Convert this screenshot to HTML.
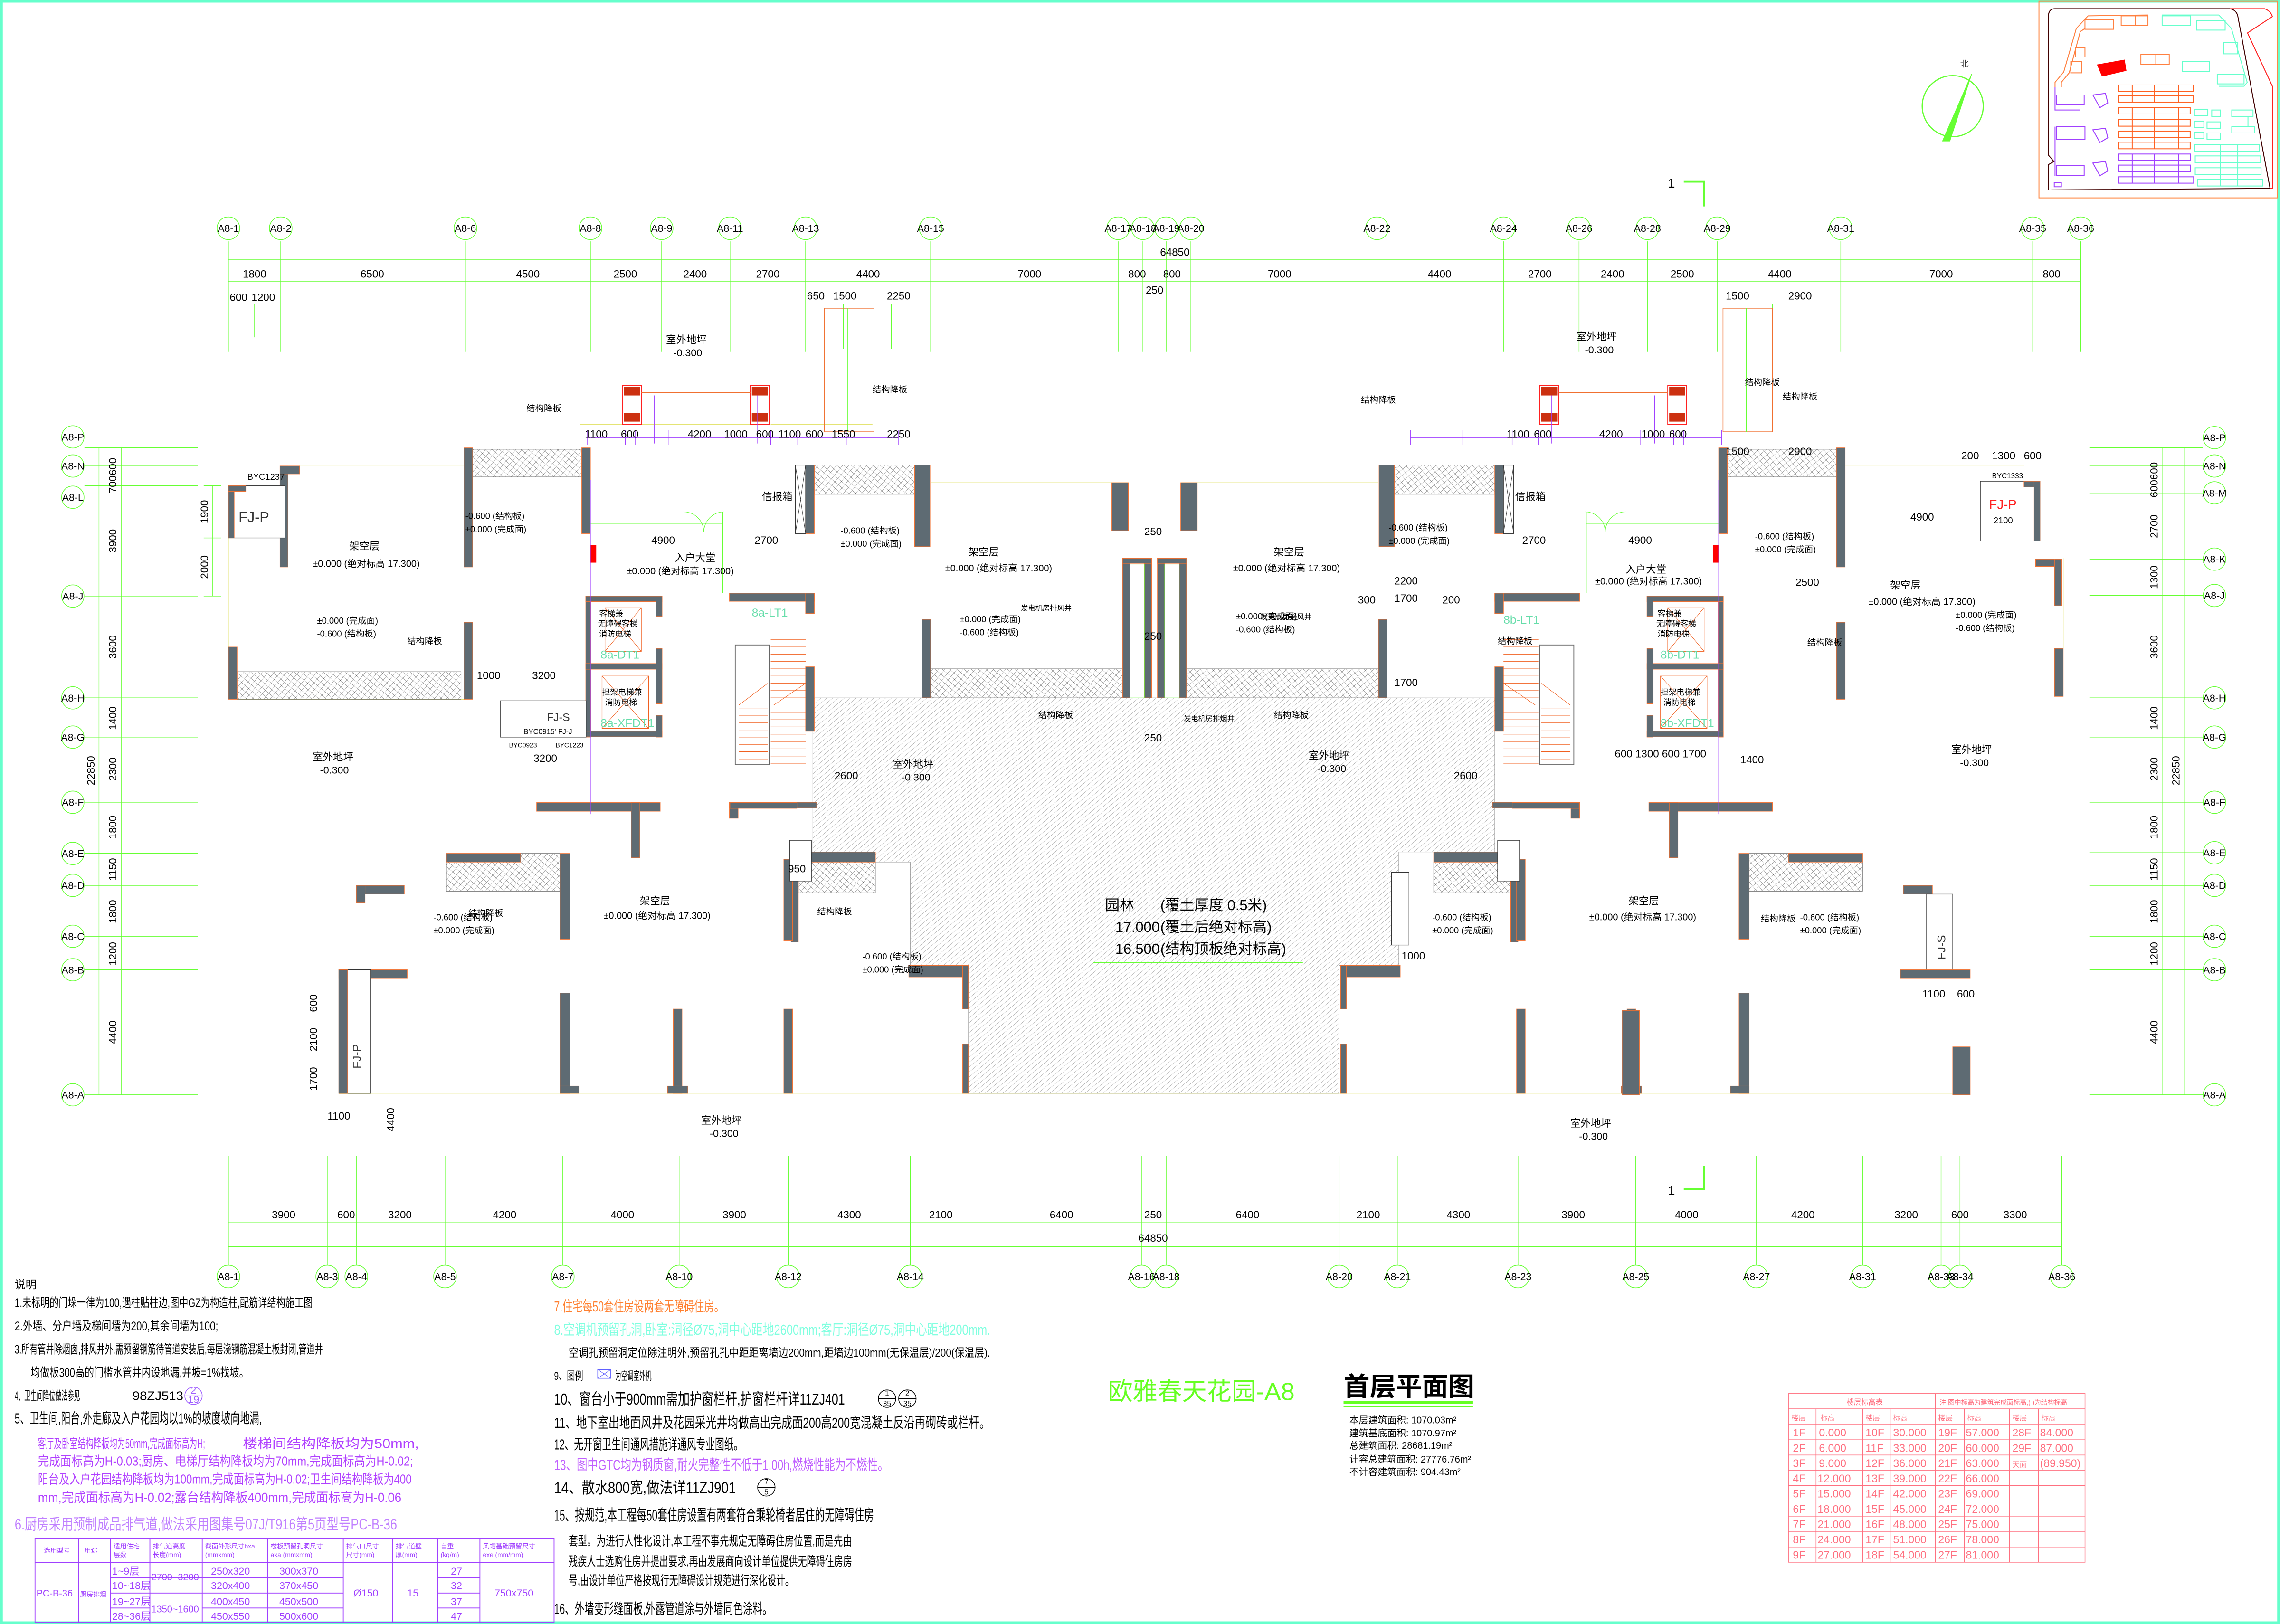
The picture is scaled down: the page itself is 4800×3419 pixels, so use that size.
<!DOCTYPE html>
<html><head><meta charset="utf-8">
<style>
html,body{margin:0;padding:0;background:#fff;}
svg{display:block;}
text{font-family:"Liberation Sans","Noto Sans CJK SC",sans-serif;}
</style></head>
<body>
<svg xmlns="http://www.w3.org/2000/svg" width="4800" height="3419" viewBox="0 0 1568 1117">
<defs>
<pattern id="hd" width="2.6" height="2.6" patternUnits="userSpaceOnUse" patternTransform="rotate(50)"><line x1="0" y1="0" x2="0" y2="2.6" stroke="#7a7a7a" stroke-width=".3"/></pattern>
<pattern id="hx" width="3.2" height="3.2" patternUnits="userSpaceOnUse" patternTransform="rotate(40)"><path d="M0 0H3.2M0 0V3.2" stroke="#555" stroke-width=".3" fill="none"/></pattern>
<style>
.w{fill:#5e6b73;stroke:#f07030;stroke-width:.35}
.hx{fill:url(#hx);stroke:#666;stroke-width:.3}
.g{stroke:#66ff33;fill:none;stroke-width:.45}
.y{stroke:#e0e060;fill:none;stroke-width:.4}
.p{stroke:#a040ff;fill:none;stroke-width:.4}
.bb{fill:#fff;stroke:#66ff33;stroke-width:.5}
.bt{font-size:7px;text-anchor:middle}
.d{font-size:7.3px;text-anchor:middle}
.s{font-size:6px}
.st{stroke:#f06020;stroke-width:.35}
</style>
</defs>
<rect x="0" y="0" width="1568" height="1117" fill="#fff"/>
<rect x="1" y="1" width="1566" height="1115" fill="none" stroke="#66ffcc" stroke-width="1.6"/>

<!-- ===== site plan inset ===== -->
<g transform="translate(1398.2,0) scale(0.10833,0.10889)" fill="none" stroke-width="6">
<rect x="38" y="8" width="1515" height="1242" stroke="#ff8844"/>
<path d="M140 55 L1250 55 Q1290 62 1300 100 L1505 1190 L98 1200 L98 1040 L133 1020 L98 980 L98 100 Q100 55 140 55Z" stroke="#400000"/>
<path d="M1250 55 L1470 55 Q1510 70 1520 105 L1362 208 L1520 545 L1520 1190 L1505 1190" stroke="#ff2020"/>
<path d="M140 550 L140 520 L195 455 L275 180 L350 100 L730 95 M180 550 L180 520 L230 460 L300 200 L330 180" stroke="#ff8040"/>
<path d="M820 95 L1180 95 L1260 180 L1360 520 L1340 545 L1180 545" stroke="#66ffcc"/>
<g stroke="#ff8040">
<path d="M330 125h180v60h-180zM420 125h90M560 100h170v60h-170zM650 100v60M270 300h60v60h-60zM240 390h70v70h-70zM685 345h180v60h-180zM780 345v60"/>
</g>
<g stroke="#66ffcc"><path d="M820 100h180v60h-180zM1040 130h180v60h-180zM1210 270h90v70h-90zM950 390h170v60h-170zM1170 470h170v60h-170z"/></g>
<path d="M410 410 L580 380 L590 445 L440 480Z" fill="#ff0000" stroke="#ff0000"/>
<g stroke="#a040ff"><path d="M140 550v145h160M150 600h175v60h-175zM380 600l80 -10 15 60 -50 30zM150 800h180v80h-180zM380 820l80 -10 15 60 -50 30zM140 800v310M150 1045h175v65h-175zM380 1030l80 -10 15 60 -50 30zM135 1155h45v25h-45z"/></g>
<g stroke="#ff6020">
<rect x="543" y="537" width="475" height="40"/><rect x="543" y="605" width="475" height="40"/><rect x="543" y="680" width="455" height="40"/><rect x="543" y="755" width="455" height="42"/><rect x="543" y="828" width="455" height="42"/><rect x="543" y="898" width="455" height="42"/>
<path d="M630 537v108M770 537v108M925 537v108M630 680v260M770 680v260M925 680v260"/>
</g>
<g stroke="#a040ff">
<rect x="543" y="973" width="458" height="40"/><rect x="543" y="1043" width="458" height="42"/><rect x="543" y="1117" width="477" height="40"/>
<path d="M630 973v185M770 973v185M925 973v185"/>
</g>
<g stroke="#66ffcc">
<rect x="1025" y="690" width="85" height="40"/><rect x="1135" y="695" width="55" height="40"/><rect x="1262" y="695" width="135" height="40"/><rect x="1262" y="800" width="145" height="40"/><path d="M1365 735v65"/>
<rect x="1025" y="765" width="60" height="40"/><rect x="1105" y="770" width="85" height="40"/><rect x="1025" y="835" width="60" height="40"/><rect x="1105" y="840" width="85" height="40"/>
<rect x="1028" y="915" width="410" height="42"/><rect x="1030" y="985" width="415" height="42"/><rect x="1030" y="1060" width="418" height="42"/><rect x="1045" y="1133" width="412" height="42"/>
<path d="M1190 915v260M1300 915v260"/>
</g>
</g>

<!-- north arrow -->
<circle cx="1343" cy="73" r="21" fill="none" stroke="#66ff33" stroke-width=".8"/>
<path d="M1336 97 L1356 51 L1341 97Z" fill="#66ff33" stroke="#66ff33" stroke-width=".5"/>
<text x="1348" y="46" class="s" fill="#333">北</text>

<!-- section marks -->
<text x="1147" y="129" font-size="9">1</text>
<path d="M1158 125h14v17" fill="none" stroke="#66ff33" stroke-width="1.2"/>
<text x="1147" y="822" font-size="9">1</text>
<path d="M1158 818h14v-16" fill="none" stroke="#66ff33" stroke-width="1.2"/>

<!-- ===== TOP grid ===== -->
<g class="g">
<path d="M157 178.4H1431M157 193.7H1431M157 209H200M554 209H640M1181 209H1266"/>
<path d="M157 166V242M193 166V242M320 166V242M406 166V242M455 166V242M502 166V242M554 166V242M640 166V242M769 166V242M786 166V242M802 166V242M819 166V242M947 166V242M1034 166V242M1086 166V242M1133 166V242M1181 166V242M1266 166V242M1398 166V242M1431 166V242"/>
<path d="M175 209V232M580 209V240M613 209V240M1219 209V240"/>
</g>
<g>
<circle cx="157" cy="157" r="7.8" class="bb"/><circle cx="193" cy="157" r="7.8" class="bb"/><circle cx="320" cy="157" r="7.8" class="bb"/><circle cx="406" cy="157" r="7.8" class="bb"/><circle cx="455" cy="157" r="7.8" class="bb"/><circle cx="502" cy="157" r="7.8" class="bb"/><circle cx="554" cy="157" r="7.8" class="bb"/><circle cx="640" cy="157" r="7.8" class="bb"/><circle cx="769" cy="157" r="7.8" class="bb"/><circle cx="786" cy="157" r="7.8" class="bb"/><circle cx="802" cy="157" r="7.8" class="bb"/><circle cx="819" cy="157" r="7.8" class="bb"/><circle cx="947" cy="157" r="7.8" class="bb"/><circle cx="1034" cy="157" r="7.8" class="bb"/><circle cx="1086" cy="157" r="7.8" class="bb"/><circle cx="1133" cy="157" r="7.8" class="bb"/><circle cx="1181" cy="157" r="7.8" class="bb"/><circle cx="1266" cy="157" r="7.8" class="bb"/><circle cx="1398" cy="157" r="7.8" class="bb"/><circle cx="1431" cy="157" r="7.8" class="bb"/>
</g>
<g class="bt" font-size="6">
<text x="157" y="159.5">A8-1</text><text x="193" y="159.5">A8-2</text><text x="320" y="159.5">A8-6</text><text x="406" y="159.5">A8-8</text><text x="455" y="159.5">A8-9</text><text x="502" y="159.5">A8-11</text><text x="554" y="159.5">A8-13</text><text x="640" y="159.5">A8-15</text><text x="769" y="159.5">A8-17</text><text x="786" y="159.5">A8-18</text><text x="802" y="159.5">A8-19</text><text x="819" y="159.5">A8-20</text><text x="947" y="159.5">A8-22</text><text x="1034" y="159.5">A8-24</text><text x="1086" y="159.5">A8-26</text><text x="1133" y="159.5">A8-28</text><text x="1181" y="159.5">A8-29</text><text x="1266" y="159.5">A8-31</text><text x="1398" y="159.5">A8-35</text><text x="1431" y="159.5">A8-36</text>
</g>
<g class="d">
<text x="808" y="176">64850</text>
<text x="175" y="191">1800</text><text x="256" y="191">6500</text><text x="363" y="191">4500</text><text x="430" y="191">2500</text><text x="478" y="191">2400</text><text x="528" y="191">2700</text><text x="597" y="191">4400</text><text x="708" y="191">7000</text><text x="782" y="191">800</text><text x="806" y="191">800</text><text x="880" y="191">7000</text><text x="990" y="191">4400</text><text x="1059" y="191">2700</text><text x="1109" y="191">2400</text><text x="1157" y="191">2500</text><text x="1224" y="191">4400</text><text x="1335" y="191">7000</text><text x="1411" y="191">800</text>
<text x="794" y="202">250</text>
</g>
<g class="d" font-size="6.3">
<text x="164" y="207">600</text><text x="181" y="207">1200</text>
<text x="561" y="206">650</text><text x="581" y="206">1500</text><text x="618" y="206">2250</text>
<text x="1195" y="206">1500</text><text x="1238" y="206">2900</text>
</g>

<!-- ===== BOTTOM grid ===== -->
<g class="g">
<path d="M157 841H1418M157 857.5H1418"/>
<path d="M157 795V870M225 795V870M245 795V870M306 795V870M387 795V870M467 795V870M542 795V870M626 795V870M785 795V870M802 795V870M921 795V870M961 795V870M1044 795V870M1125 795V870M1208 795V870M1281 795V870M1335 795V870M1348 795V870M1418 795V870"/>
</g>
<g>
<circle cx="157" cy="878" r="7.8" class="bb"/><circle cx="225" cy="878" r="7.8" class="bb"/><circle cx="245" cy="878" r="7.8" class="bb"/><circle cx="306" cy="878" r="7.8" class="bb"/><circle cx="387" cy="878" r="7.8" class="bb"/><circle cx="467" cy="878" r="7.8" class="bb"/><circle cx="542" cy="878" r="7.8" class="bb"/><circle cx="626" cy="878" r="7.8" class="bb"/><circle cx="785" cy="878" r="7.8" class="bb"/><circle cx="802" cy="878" r="7.8" class="bb"/><circle cx="921" cy="878" r="7.8" class="bb"/><circle cx="961" cy="878" r="7.8" class="bb"/><circle cx="1044" cy="878" r="7.8" class="bb"/><circle cx="1125" cy="878" r="7.8" class="bb"/><circle cx="1208" cy="878" r="7.8" class="bb"/><circle cx="1281" cy="878" r="7.8" class="bb"/><circle cx="1335" cy="878" r="7.8" class="bb"/><circle cx="1348" cy="878" r="7.8" class="bb"/><circle cx="1418" cy="878" r="7.8" class="bb"/>
</g>
<g class="bt" font-size="6">
<text x="157" y="880.5">A8-1</text><text x="225" y="880.5">A8-3</text><text x="245" y="880.5">A8-4</text><text x="306" y="880.5">A8-5</text><text x="387" y="880.5">A8-7</text><text x="467" y="880.5">A8-10</text><text x="542" y="880.5">A8-12</text><text x="626" y="880.5">A8-14</text><text x="785" y="880.5">A8-16</text><text x="802" y="880.5">A8-18</text><text x="921" y="880.5">A8-20</text><text x="961" y="880.5">A8-21</text><text x="1044" y="880.5">A8-23</text><text x="1125" y="880.5">A8-25</text><text x="1208" y="880.5">A8-27</text><text x="1281" y="880.5">A8-31</text><text x="1335" y="880.5">A8-33</text><text x="1348" y="880.5">A8-34</text><text x="1418" y="880.5">A8-36</text>
</g>
<g class="d">
<text x="195" y="838">3900</text><text x="238" y="838">600</text><text x="275" y="838">3200</text><text x="347" y="838">4200</text><text x="428" y="838">4000</text><text x="505" y="838">3900</text><text x="584" y="838">4300</text><text x="647" y="838">2100</text><text x="730" y="838">6400</text><text x="793" y="838">250</text><text x="858" y="838">6400</text><text x="941" y="838">2100</text><text x="1003" y="838">4300</text><text x="1082" y="838">3900</text><text x="1160" y="838">4000</text><text x="1240" y="838">4200</text><text x="1311" y="838">3200</text><text x="1348" y="838">600</text><text x="1386" y="838">3300</text>
<text x="793" y="854">64850</text>
</g>

<!-- ===== LEFT grid ===== -->
<g class="g">
<path d="M68 308V753M83.5 308V753"/>
<path d="M58 308H136M58 320.5H136M58 334H136M58 410H136M58 480H136M58 507H136M58 551.8H136M58 587H136M58 609H136M58 644H136M58 667H136M58 753H136"/>
<path d="M146 334V410M140 334H152M140 370H152M140 410H152"/>
</g>
<g>
<circle cx="50" cy="300.5" r="7.7" class="bb"/><circle cx="50" cy="320.5" r="7.7" class="bb"/><circle cx="50" cy="342" r="7.7" class="bb"/><circle cx="50" cy="410" r="7.7" class="bb"/><circle cx="50" cy="480" r="7.7" class="bb"/><circle cx="50" cy="507" r="7.7" class="bb"/><circle cx="50" cy="551.8" r="7.7" class="bb"/><circle cx="50" cy="587" r="7.7" class="bb"/><circle cx="50" cy="609" r="7.7" class="bb"/><circle cx="50" cy="644" r="7.7" class="bb"/><circle cx="50" cy="667" r="7.7" class="bb"/><circle cx="50" cy="753" r="7.7" class="bb"/>
</g>
<g class="bt" font-size="6">
<text x="50" y="303">A8-P</text><text x="50" y="323">A8-N</text><text x="50" y="344.5">A8-L</text><text x="50" y="412.5">A8-J</text><text x="50" y="482.5">A8-H</text><text x="50" y="509.5">A8-G</text><text x="50" y="554.3">A8-F</text><text x="50" y="589.5">A8-E</text><text x="50" y="611.5">A8-D</text><text x="50" y="646.5">A8-C</text><text x="50" y="669.5">A8-B</text><text x="50" y="755.5">A8-A</text>
</g>
<g class="d">
<text transform="translate(80,327) rotate(-90)">700600</text>
<text transform="translate(80,372) rotate(-90)">3900</text>
<text transform="translate(80,445) rotate(-90)">3600</text>
<text transform="translate(80,494) rotate(-90)">1400</text>
<text transform="translate(80,529) rotate(-90)">2300</text>
<text transform="translate(80,569) rotate(-90)">1800</text>
<text transform="translate(80,598) rotate(-90)">1150</text>
<text transform="translate(80,627) rotate(-90)">1800</text>
<text transform="translate(80,656) rotate(-90)">1200</text>
<text transform="translate(80,710) rotate(-90)">4400</text>
<text transform="translate(65,530) rotate(-90)">22850</text>
<text transform="translate(143,352) rotate(-90)">1900</text>
<text transform="translate(143,390) rotate(-90)">2000</text>
</g>

<!-- ===== RIGHT grid ===== -->
<g class="g">
<path d="M1487 308V753M1502 308V753"/>
<path d="M1437 308H1515M1437 320.5H1515M1437 339H1515M1437 384.6H1515M1437 409.6H1515M1437 480H1515M1437 507H1515M1437 551.8H1515M1437 586.5H1515M1437 609H1515M1437 644H1515M1437 667H1515M1437 753H1515"/>
</g>
<g>
<circle cx="1523" cy="301" r="7.7" class="bb"/><circle cx="1523" cy="320.5" r="7.7" class="bb"/><circle cx="1523" cy="339" r="7.7" class="bb"/><circle cx="1523" cy="384.6" r="7.7" class="bb"/><circle cx="1523" cy="409.6" r="7.7" class="bb"/><circle cx="1523" cy="480" r="7.7" class="bb"/><circle cx="1523" cy="507" r="7.7" class="bb"/><circle cx="1523" cy="551.8" r="7.7" class="bb"/><circle cx="1523" cy="586.5" r="7.7" class="bb"/><circle cx="1523" cy="609" r="7.7" class="bb"/><circle cx="1523" cy="644" r="7.7" class="bb"/><circle cx="1523" cy="667" r="7.7" class="bb"/><circle cx="1523" cy="753" r="7.7" class="bb"/>
</g>
<g class="bt" font-size="6">
<text x="1523" y="303.5">A8-P</text><text x="1523" y="323">A8-N</text><text x="1523" y="341.5">A8-M</text><text x="1523" y="387">A8-K</text><text x="1523" y="412">A8-J</text><text x="1523" y="482.5">A8-H</text><text x="1523" y="509.5">A8-G</text><text x="1523" y="554.3">A8-F</text><text x="1523" y="589">A8-E</text><text x="1523" y="611.5">A8-D</text><text x="1523" y="646.5">A8-C</text><text x="1523" y="669.5">A8-B</text><text x="1523" y="755.5">A8-A</text>
</g>
<g class="d">
<text transform="translate(1484,330) rotate(-90)">600600</text>
<text transform="translate(1484,362) rotate(-90)">2700</text>
<text transform="translate(1484,397) rotate(-90)">1300</text>
<text transform="translate(1484,445) rotate(-90)">3600</text>
<text transform="translate(1484,494) rotate(-90)">1400</text>
<text transform="translate(1484,529) rotate(-90)">2300</text>
<text transform="translate(1484,569) rotate(-90)">1800</text>
<text transform="translate(1484,598) rotate(-90)">1150</text>
<text transform="translate(1484,627) rotate(-90)">1800</text>
<text transform="translate(1484,656) rotate(-90)">1200</text>
<text transform="translate(1484,710) rotate(-90)">4400</text>
<text transform="translate(1499,530) rotate(-90)">22850</text>
</g>

<!-- ===== courtyard hatch ===== -->
<path d="M559 480 L1028 480 L1028 586 L962 586 L962 664 L921 664 L921 752 L666 752 L666 664 L626 664 L626 593 L559 593Z" fill="url(#hd)" stroke="#999" stroke-width=".3"/>

<!-- yellow outline -->
<g class="y">
<path d="M163 481H320M157 481V445M157 370V390M206 320H320M399 292H430M441 292H516M530 292H600M640 332H776M812 332H948M233 752.5H1355M157 390V445"/>
<path d="M1392 320H1267M1419 384V446"/>
</g>

<!-- ramps (not mirrored) -->
<rect x="567" y="212" width="34" height="85" fill="none" stroke="#f07030" stroke-width=".5"/>
<path d="M583 212V297" stroke="#66ff33" stroke-width=".4"/>
<rect x="1185" y="212" width="34" height="85" fill="none" stroke="#f07030" stroke-width=".5"/>
<path d="M1201 212V297" stroke="#66ff33" stroke-width=".4"/>

<!-- ===== mirrored walls ===== -->
<g id="half">
<rect class="hx" x="325" y="309" width="75" height="19"/>
<rect class="hx" x="560" y="320" width="70" height="20"/>
<rect class="hx" x="640" y="460" width="132" height="20"/>
<rect class="hx" x="549" y="593" width="53" height="21"/>
<rect class="hx" x="307" y="587" width="78" height="26"/>
<rect class="w" x="319" y="308" width="6" height="82"/>
<rect class="w" x="400" y="308" width="6" height="59"/>
<rect class="w" x="319" y="428" width="6" height="53"/>
<rect class="w" x="554" y="320" width="6" height="47"/>
<rect class="w" x="629" y="320" width="10.6" height="56"/>
<rect class="w" x="634" y="426" width="6" height="54"/>
<rect class="w" x="764.6" y="332" width="11.4" height="33"/>
<rect class="w" x="772" y="384" width="5" height="96"/>
<rect class="w" x="787" y="384" width="5" height="96"/>
<rect class="w" x="772" y="384" width="20" height="3.5"/>
<rect x="777" y="388" width="10" height="92" fill="#fff" stroke="#66ff33" stroke-width=".3"/>
<rect class="w" x="402.8" y="410" width="3.6" height="97"/>
<rect class="w" x="402.8" y="410" width="52.5" height="3.8"/>
<rect class="w" x="402.8" y="456.4" width="52.5" height="3.9"/>
<rect class="w" x="402.8" y="503" width="52.5" height="3.8"/>
<rect class="w" x="451" y="410" width="4.3" height="14"/>
<rect class="w" x="451" y="446" width="4.3" height="38"/>
<rect class="w" x="451" y="492" width="4.3" height="15"/>
<rect x="416" y="418" width="25" height="30" fill="none" stroke="#f06020" stroke-width=".4"/>
<path d="M416 418L441 448M441 418L416 448" stroke="#f06020" stroke-width=".35"/>
<rect x="414" y="465" width="32" height="36" fill="none" stroke="#f06020" stroke-width=".4"/>
<path d="M414 465L446 501M446 465L414 501" stroke="#f06020" stroke-width=".35"/>
<rect class="w" x="501.6" y="408" width="58.4" height="5.6"/>
<rect class="w" x="554" y="408" width="6" height="14"/>
<rect class="w" x="554" y="458.6" width="6" height="44.4"/>
<rect class="w" x="501.6" y="551.8" width="60" height="4"/>
<rect class="w" x="501.6" y="551.8" width="6" height="11"/>
<rect x="505.6" y="443.6" width="23.4" height="82.4" fill="#fff" stroke="#666" stroke-width=".6"/>
<g class="st">
<path d="M530 440H554M530 445H554M530 450H554M530 455H554M530 460H554M530 465H554M530 470H554M530 475H554M530 480H554M530 485H554M530 490H554M530 495H554M530 500H554M530 505H554M530 510H554M530 515H554M530 520H554M530 525H554"/>
<path d="M508 487H528M508 492H528M508 497H528M508 502H528M508 507H528M508 512H528M508 517H528M508 522H528"/>
<path d="M508 485L528 470M532 485L554 470"/>
</g>
<rect class="w" x="544" y="586" width="5" height="62"/>
<rect class="w" x="539" y="694" width="6" height="58"/>
<rect class="w" x="556" y="586" width="46" height="7"/>
<rect class="w" x="625" y="664" width="41" height="8"/>
<rect class="w" x="662" y="664" width="4" height="30"/>
<rect class="w" x="662" y="718" width="4" height="34"/>
<rect class="w" x="369" y="552" width="85" height="6"/>
<rect class="w" x="434" y="552" width="6" height="38"/>
<rect class="w" x="502" y="552" width="46" height="4"/>
<rect class="w" x="307" y="587" width="51" height="6"/>
<rect class="w" x="385" y="587" width="7" height="59"/>
<rect class="w" x="385" y="683" width="7" height="69"/>
<rect class="w" x="385" y="747" width="13" height="5"/>
<rect class="w" x="463" y="694" width="6" height="58"/>
<rect class="w" x="459" y="747" width="14" height="5"/>
<rect class="w" x="539" y="591" width="6" height="56"/>
<rect x="547" y="320" width="7" height="47" fill="#fff" stroke="#333" stroke-width=".4"/>
<path d="M547 320L554 367M554 320L547 367" stroke="#333" stroke-width=".3"/>
<rect x="406" y="375" width="4" height="12" fill="#ff0000"/>
<path d="M406 360H497M497 352V408" stroke="#66ff33" stroke-width=".4" fill="none"/>
<path d="M470 352a14 14 0 0 1 14 14M498 352a14 14 0 0 0 -14 14" stroke="#66ff33" stroke-width=".4" fill="none"/>
<rect x="428" y="265" width="13" height="27" fill="#fff" stroke="#ff2020" stroke-width=".6"/>
<rect x="429" y="266" width="11" height="6" fill="#cc3010"/><rect x="429" y="284" width="11" height="6" fill="#cc3010"/>
<rect x="516" y="265" width="13" height="27" fill="#fff" stroke="#ff2020" stroke-width=".6"/>
<rect x="517" y="266" width="11" height="6" fill="#cc3010"/><rect x="517" y="284" width="11" height="6" fill="#cc3010"/>
<path d="M441 270H516" stroke="#f07030" stroke-width=".4"/>
<path class="p" d="M404 301H618M404 296V306M430 296V306M437 296V306M460 296V306M530 296V306M548 296V306M582 296V306M618 296V306"/>
<path class="p" d="M450 272V305M521 272V305M406 330V560"/>
</g>
<use href="#half" transform="matrix(-1,0,0,1,1588,0)"/>

<!-- ===== wing-specific ===== -->
<rect class="hx" x="163" y="462" width="154" height="19"/>
<rect class="w" x="157" y="445" width="6" height="36"/>
<rect class="w" x="192.5" y="320.5" width="5.5" height="69.5"/>
<rect class="w" x="192.5" y="320.5" width="13.5" height="5.5"/>
<rect x="157" y="334" width="39" height="36" fill="#fff" stroke="#333" stroke-width=".4"/>
<rect class="w" x="157" y="334" width="4" height="36"/><rect class="w" x="157" y="334" width="12" height="4"/>
<text x="164" y="359" font-size="10" fill="#333">FJ-P</text>
<text x="170" y="330" class="s" font-size="5">BYC1237</text>
<rect class="w" x="233" y="667" width="47" height="6"/>
<rect x="233" y="667" width="22" height="85" fill="#fff" stroke="#333" stroke-width=".4"/>
<rect class="w" x="233" y="667" width="6" height="85"/>
<text transform="translate(248,735) rotate(-90)" font-size="8" fill="#333">FJ-P</text>
<text x="233" y="770" class="d" font-size="6.5" text-anchor="start">1100</text>
<text transform="translate(271,770) rotate(-90)" class="d" font-size="6.5" text-anchor="start">4400</text>
<text transform="translate(218,690) rotate(-90)" class="d" font-size="6.5">600</text>
<text transform="translate(218,715) rotate(-90)" class="d" font-size="6.5">2100</text>
<text transform="translate(218,742) rotate(-90)" class="d" font-size="6.5">1700</text>
<rect class="w" x="245" y="609" width="33" height="6"/>
<rect class="w" x="245" y="609" width="6" height="12"/>
<rect x="344" y="482" width="59" height="25" fill="#fff" stroke="#333" stroke-width=".4"/>
<text x="376" y="496" font-size="7.5" fill="#333">FJ-S</text>
<text x="360" y="505" font-size="5">BYC0915' FJ-J</text>
<text x="350" y="514" font-size="4.5">BYC0923</text><text x="382" y="514" font-size="4.5">BYC1223</text>
<rect class="w" x="1400" y="384.6" width="18" height="5"/>
<rect class="w" x="1413" y="384.6" width="5" height="32"/>
<rect class="w" x="1413" y="446" width="6" height="33"/>
<rect x="1362" y="331" width="41" height="41" fill="#fff" stroke="#333" stroke-width=".4"/>
<rect class="w" x="1392" y="331" width="11" height="4"/><rect class="w" x="1399" y="331" width="4" height="41"/>
<text x="1368" y="350" font-size="9" fill="#ff2020">FJ-P</text>
<text x="1371" y="360" class="s">2100</text>
<text x="1370" y="329" font-size="5">BYC1333</text>
<g class="d" font-size="6.5"><text x="1355" y="316">200</text><text x="1378" y="316">1300</text><text x="1398" y="316">600</text><text x="1322" y="358">4900</text></g>
<rect class="w" x="1309" y="609" width="20" height="6"/>
<rect x="1325" y="615" width="18" height="55" fill="#fff" stroke="#333" stroke-width=".4"/>
<rect class="w" x="1307" y="667" width="48" height="6"/>
<text transform="translate(1338,660) rotate(-90)" font-size="8" fill="#333">FJ-S</text>
<g class="d" font-size="6.5"><text x="1330" y="686">1100</text><text x="1352" y="686">600</text></g>
<rect class="w" x="1115.6" y="695" width="11.9" height="58"/>
<rect class="w" x="1343" y="720" width="12" height="33"/>
<rect x="543" y="578" width="15" height="28" fill="#fff" stroke="#333" stroke-width=".4"/>
<rect x="1030" y="578" width="15" height="28" fill="#fff" stroke="#333" stroke-width=".4"/>
<rect x="957" y="600" width="12" height="50" fill="#fff" stroke="#333" stroke-width=".4"/>

<!-- ===== plan labels ===== -->
<g font-size="7" fill="#000">
<text x="240" y="378">架空层</text><text x="215" y="390" font-size="6.5">±0.000 (绝对标高  17.300)</text>
<text x="666" y="382">架空层</text><text x="650" y="393" font-size="6.5">±0.000 (绝对标高  17.300)</text>
<text x="876" y="382">架空层</text><text x="848" y="393" font-size="6.5">±0.000 (绝对标高  17.300)</text>
<text x="1300" y="405">架空层</text><text x="1285" y="416" font-size="6.5">±0.000 (绝对标高  17.300)</text>
<text x="440" y="622">架空层</text><text x="415" y="632" font-size="6.5">±0.000 (绝对标高  17.300)</text>
<text x="1120" y="622">架空层</text><text x="1093" y="633" font-size="6.5">±0.000 (绝对标高  17.300)</text>
<text x="458" y="236">室外地坪</text><text x="463" y="245">-0.300</text>
<text x="1084" y="234">室外地坪</text><text x="1090" y="243">-0.300</text>
<text x="215" y="523">室外地坪</text><text x="220" y="532">-0.300</text>
<text x="614" y="528">室外地坪</text><text x="620" y="537">-0.300</text>
<text x="900" y="522">室外地坪</text><text x="906" y="531">-0.300</text>
<text x="1342" y="518">室外地坪</text><text x="1348" y="527">-0.300</text>
<text x="482" y="773">室外地坪</text><text x="488" y="782">-0.300</text>
<text x="1080" y="775">室外地坪</text><text x="1086" y="784">-0.300</text>
<text x="464" y="386">入户大堂</text><text x="431" y="395" font-size="6.5">±0.000 (绝对标高  17.300)</text>
<text x="1118" y="394">入户大堂</text><text x="1097" y="402" font-size="6.5">±0.000 (绝对标高  17.300)</text>
<text x="524" y="344">信报箱</text><text x="1042" y="344">信报箱</text>
</g>
<g font-size="6" fill="#000">
<text x="320" y="357">-0.600 (结构板)</text><text x="320" y="366">±0.000 (完成面)</text>
<text x="578" y="367">-0.600 (结构板)</text><text x="578" y="376">±0.000 (完成面)</text>
<text x="955" y="365">-0.600 (结构板)</text><text x="955" y="374">±0.000 (完成面)</text>
<text x="1207" y="371">-0.600 (结构板)</text><text x="1207" y="380">±0.000 (完成面)</text>
<text x="218" y="429">±0.000 (完成面)</text><text x="218" y="438">-0.600 (结构板)</text>
<text x="1345" y="425">±0.000 (完成面)</text><text x="1345" y="434">-0.600 (结构板)</text>
<text x="660" y="428">±0.000 (完成面)</text><text x="660" y="437">-0.600 (结构板)</text>
<text x="850" y="426">±0.000 (完成面)</text><text x="850" y="435">-0.600 (结构板)</text>
<text x="298" y="633">-0.600 (结构板)</text><text x="298" y="642">±0.000 (完成面)</text>
<text x="593" y="660">-0.600 (结构板)</text><text x="593" y="669">±0.000 (完成面)</text>
<text x="985" y="633">-0.600 (结构板)</text><text x="985" y="642">±0.000 (完成面)</text>
<text x="1238" y="633">-0.600 (结构板)</text><text x="1238" y="642">±0.000 (完成面)</text>
<text x="362" y="283">结构降板</text><text x="936" y="277">结构降板</text><text x="1200" y="265">结构降板</text>
<text x="600" y="270">结构降板</text><text x="1226" y="275">结构降板</text>
<text x="280" y="443">结构降板</text><text x="714" y="494">结构降板</text><text x="876" y="494">结构降板</text>
<text x="322" y="630">结构降板</text><text x="562" y="629">结构降板</text><text x="1211" y="634">结构降板</text>
<text x="1030" y="443">结构降板</text><text x="1243" y="444">结构降板</text>
<text x="702" y="420" font-size="5">发电机房排风井</text><text x="867" y="426" font-size="5">发电机房送风井</text>
<text x="814" y="496" font-size="5">发电机房排烟井</text>
<text x="412" y="424" font-size="5.5">客梯兼</text><text x="411" y="431" font-size="5.5">无障碍客梯</text><text x="412" y="438" font-size="5.5">消防电梯</text>
<text x="414" y="478" font-size="5.5">担架电梯兼</text><text x="416" y="485" font-size="5.5">消防电梯</text>
<text x="1140" y="424" font-size="5.5">客梯兼</text><text x="1139" y="431" font-size="5.5">无障碍客梯</text><text x="1140" y="438" font-size="5.5">消防电梯</text>
<text x="1142" y="478" font-size="5.5">担架电梯兼</text><text x="1144" y="485" font-size="5.5">消防电梯</text>
</g>
<g font-size="8" fill="#66ddaa">
<text x="413" y="453">8a-DT1</text><text x="413" y="500">8a-XFDT1</text><text x="517" y="424">8a-LT1</text>
<text x="1142" y="453">8b-DT1</text><text x="1142" y="500">8b-XFDT1</text><text x="1034" y="429">8b-LT1</text>
</g>
<g font-size="10" fill="#000">
<text x="760" y="626">园林</text><text x="798" y="626">(覆土厚度  0.5米)</text>
<text x="767" y="641">17.000</text><text x="798" y="641">(覆土后绝对标高)</text>
<text x="767" y="656">16.500</text><text x="798" y="656">(结构顶板绝对标高)</text>
</g>
<path d="M752 662H896" stroke="#66ff33" stroke-width=".5"/>
<g class="d" font-size="6.5">
<text x="410" y="301">1100</text><text x="433" y="301">600</text><text x="481" y="301">4200</text><text x="506" y="301">1000</text><text x="526" y="301">600</text><text x="543" y="301">1100</text><text x="560" y="301">600</text><text x="580" y="301">1550</text><text x="618" y="301">2250</text>
<text x="1044" y="301">1100</text><text x="1061" y="301">600</text><text x="1108" y="301">4200</text><text x="1137" y="301">1000</text><text x="1154" y="301">600</text><text x="1195" y="313">1500</text><text x="1238" y="313">2900</text>
<text x="456" y="374">4900</text><text x="527" y="374">2700</text><text x="1055" y="374">2700</text><text x="1128" y="374">4900</text>
<text x="1243" y="403">2500</text>
<text x="336" y="467">1000</text><text x="374" y="467">3200</text><text x="375" y="524">3200</text>
<text x="793" y="368">250</text><text x="793" y="440">250</text><text x="793" y="510">250</text>
<text x="967" y="414">1700</text><text x="967" y="402">2200</text><text x="967" y="472">1700</text>
<text x="940" y="415">300</text><text x="998" y="415">200</text>
<text x="548" y="600">950</text><text x="972" y="660">1000</text>
<text x="582" y="536">2600</text><text x="1008" y="536">2600</text>
<text x="1205" y="525">1400</text><text x="1142" y="521">600 1300  600  1700</text>
</g>

<!-- ===== NOTES ===== -->
<g font-size="8.5" fill="#000">
<text x="10" y="886" font-size="7.5">说明</text>
<text x="10" y="899" textLength="205" lengthAdjust="spacingAndGlyphs">1.未标明的门垛一律为100,遇柱贴柱边,图中GZ为构造柱,配筋详结构施工图</text>
<text x="10" y="915" textLength="140" lengthAdjust="spacingAndGlyphs">2.外墙、分户墙及梯间墙为200,其余间墙为100;</text>
<text x="10" y="931" textLength="212" lengthAdjust="spacingAndGlyphs">3.所有管井除烟囱,排风井外,需预留钢筋待管道安装后,每层浇钢筋混凝土板封闭,管道井</text>
<text x="21" y="947" textLength="150" lengthAdjust="spacingAndGlyphs">均做板300高的门槛水管井内设地漏,并坡=1%找坡。</text>
<text x="10" y="963" textLength="45" lengthAdjust="spacingAndGlyphs">4、卫生间降位做法参见</text>
<text x="91" y="963" textLength="35" lengthAdjust="spacingAndGlyphs">98ZJ513</text>
<text x="10" y="979" textLength="170" lengthAdjust="spacingAndGlyphs" font-size="10">5、卫生间,阳台,外走廊及入户花园均以1%的坡度坡向地漏,</text>
</g>
<circle cx="133" cy="960" r="6" fill="none" stroke="#a060ff" stroke-width=".5"/>
<path d="M127 960h12" stroke="#a060ff" stroke-width=".4"/>
<text x="133" y="958.5" class="bt" font-size="5" fill="#a060ff">2</text><text x="133" y="965" class="bt" font-size="5" fill="#a060ff">19</text>
<g font-size="9" fill="#b040ff">
<text x="26" y="996" textLength="115" lengthAdjust="spacingAndGlyphs">客厅及卧室结构降板均为50mm,完成面标高为H;</text>
<text x="167" y="996" textLength="121" lengthAdjust="spacingAndGlyphs">楼梯间结构降板均为50mm,</text>
<text x="26" y="1008" textLength="258" lengthAdjust="spacingAndGlyphs">完成面标高为H-0.03;厨房、电梯厅结构降板均为70mm,完成面标高为H-0.02;</text>
<text x="26" y="1020.5" textLength="257" lengthAdjust="spacingAndGlyphs">阳台及入户花园结构降板均为100mm,完成面标高为H-0.02;卫生间结构降板为400</text>
<text x="26" y="1033" textLength="250" lengthAdjust="spacingAndGlyphs">mm,完成面标高为H-0.02;露台结构降板400mm,完成面标高为H-0.06</text>
<text x="10" y="1052" font-size="10.5" fill="#c080ff" textLength="263" lengthAdjust="spacingAndGlyphs">6.厨房采用预制成品排气道,做法采用图集号07J/T916第5页型号PC-B-36</text>
</g>
<!-- kitchen table -->
<g stroke="#a040ff" stroke-width=".6" fill="none">
<rect x="24" y="1058" width="357" height="58"/>
<path d="M24 1074.6H381M76 1085H139M139 1085H236M301 1085H330M76 1095.7H103M139 1095.7H236M301 1095.7H330M76 1106H103M139 1106H236M301 1106H330M103 1095.7H139"/>
<path d="M54 1058V1116M76 1058V1116M103 1058V1116M139 1058V1116M184 1058V1116M236 1058V1116M270 1058V1116M301 1058V1116M330 1058V1116"/>
</g>
<g font-size="4.5" fill="#a040ff">
<text x="30" y="1068">选用型号</text><text x="58" y="1068">用途</text><text x="78" y="1065">适用住宅</text><text x="78" y="1071">层数</text>
<text x="105" y="1065">排气道高度</text><text x="105" y="1071">长度(mm)</text>
<text x="141" y="1065">截面外形尺寸bxa</text><text x="141" y="1071">(mmxmm)</text>
<text x="186" y="1065">楼板预留孔洞尺寸</text><text x="186" y="1071">axa (mmxmm)</text>
<text x="238" y="1065">排气口尺寸</text><text x="238" y="1071">尺寸(mm)</text>
<text x="272" y="1065">排气道壁</text><text x="272" y="1071">厚(mm)</text>
<text x="303" y="1065">自重</text><text x="303" y="1071">(kg/m)</text>
<text x="332" y="1065">风帽基础预留尺寸</text><text x="332" y="1071">exe (mm/mm)</text>
</g>
<g font-size="7" fill="#a040ff">
<text x="25" y="1098" font-size="6.5">PC-B-36</text><text x="55" y="1098" font-size="4.5">厨房排烟</text>
<text x="77" y="1083">1~9层</text><text x="77" y="1093">10~18层</text><text x="77" y="1104">19~27层</text><text x="77" y="1114">28~36层</text>
<text x="104" y="1087" font-size="6.5">2700~3200</text><text x="104" y="1109" font-size="6.5">1350~1600</text>
<text x="145" y="1083">250x320</text><text x="145" y="1093">320x400</text><text x="145" y="1104">400x450</text><text x="145" y="1114">450x550</text>
<text x="192" y="1083">300x370</text><text x="192" y="1093">370x450</text><text x="192" y="1104">450x500</text><text x="192" y="1114">500x600</text>
<text x="243" y="1098">Ø150</text><text x="280" y="1098">15</text>
<text x="310" y="1083">27</text><text x="310" y="1093">32</text><text x="310" y="1104">37</text><text x="310" y="1114">47</text>
<text x="340" y="1098">750x750</text>
</g>

<!-- right notes -->
<g font-size="10" fill="#000">
<text x="381" y="902" fill="#ff8030" textLength="117" lengthAdjust="spacingAndGlyphs">7.住宅每50套住房设两套无障碍住房。</text>
<text x="381" y="918" fill="#80ffe0" textLength="300" lengthAdjust="spacingAndGlyphs">8.空调机预留孔洞,卧室:洞径Ø75,洞中心距地2600mm;客厅:洞径Ø75,洞中心距地200mm.</text>
<text x="391" y="933" font-size="8" textLength="290" lengthAdjust="spacingAndGlyphs">空调孔预留洞定位除注明外,预留孔孔中距距离墙边200mm,距墙边100mm(无保温层)/200(保温层).</text>
<text x="381" y="949" font-size="8" textLength="20" lengthAdjust="spacingAndGlyphs">9、图例</text>
<text x="423" y="949" font-size="8" textLength="25" lengthAdjust="spacingAndGlyphs">为空调室外机</text>
<text x="381" y="966" font-size="11" textLength="200" lengthAdjust="spacingAndGlyphs">10、窗台小于900mm需加护窗栏杆,护窗栏杆详11ZJ401</text>
<text x="381" y="982" textLength="300" lengthAdjust="spacingAndGlyphs">11、地下室出地面风井及花园采光井均做高出完成面200高200宽混凝土反沿再砌砖或栏杆。</text>
<text x="381" y="997" textLength="130" lengthAdjust="spacingAndGlyphs">12、无开窗卫生间通风措施详通风专业图纸。</text>
<text x="381" y="1011" fill="#c060ff" textLength="230" lengthAdjust="spacingAndGlyphs">13、图中GTC均为钢质窗,耐火完整性不低于1.00h,燃烧性能为不燃性。</text>
<text x="381" y="1027" font-size="11" textLength="125" lengthAdjust="spacingAndGlyphs">14、散水800宽,做法详11ZJ901</text>
<text x="381" y="1046" font-size="11" textLength="220" lengthAdjust="spacingAndGlyphs">15、按规范,本工程每50套住房设置有两套符合乘轮椅者居住的无障碍住房</text>
<text x="391" y="1063" font-size="9" textLength="195" lengthAdjust="spacingAndGlyphs">套型。为进行人性化设计,本工程不事先规定无障碍住房位置,而是先由</text>
<text x="391" y="1077" font-size="9" textLength="195" lengthAdjust="spacingAndGlyphs">残疾人士选购住房并提出要求,再由发展商向设计单位提供无障碍住房房</text>
<text x="391" y="1090" font-size="9" textLength="155" lengthAdjust="spacingAndGlyphs">号,由设计单位严格按现行无障碍设计规范进行深化设计。</text>
<text x="381" y="1110" font-size="10" textLength="150" lengthAdjust="spacingAndGlyphs">16、外墙变形缝面板,外露管道涂与外墙同色涂料。</text>
</g>
<rect x="411" y="942" width="9" height="6" fill="none" stroke="#6060ff" stroke-width=".5"/>
<path d="M411 942l9 6M420 942l-9 6" stroke="#6060ff" stroke-width=".4"/>
<g fill="none" stroke="#000" stroke-width=".5"><circle cx="610" cy="962" r="6"/><circle cx="624" cy="962" r="6"/><circle cx="527" cy="1023" r="6"/><path d="M604 962h12M618 962h12M521 1023h12"/></g>
<g font-size="5" text-anchor="middle"><text x="610" y="960">1</text><text x="610" y="967">35</text><text x="624" y="960">2</text><text x="624" y="967">35</text><text x="527" y="1021">7</text><text x="527" y="1028">5</text></g>

<!-- title -->
<text x="762" y="963" font-size="17" fill="#66ff22">欧雅春天花园-A8</text>
<text x="924" y="960" font-size="18" fill="#000" font-weight="bold">首层平面图</text>
<rect x="924" y="963.5" width="89" height="2" fill="#66ff22"/>
<rect x="924" y="967.3" width="89" height=".5" fill="#66ff22"/>
<g font-size="6.5" fill="#000">
<text x="928" y="979">本层建筑面积: 1070.03m²</text>
<text x="928" y="988">建筑基底面积: 1070.97m²</text>
<text x="928" y="996.5">总建筑面积: 28681.19m²</text>
<text x="928" y="1006">计容总建筑面积: 27776.76m²</text>
<text x="928" y="1014.5">不计容建筑面积: 904.43m²</text>
</g>

<!-- elevation table -->
<g stroke="#ff7080" stroke-width=".5" fill="none">
<rect x="1230" y="958.5" width="204" height="116"/>
<path d="M1230 969H1434M1230 979.8H1434M1230 990.3H1434M1230 1000.8H1434M1230 1011.2H1434M1230 1021.8H1434M1230 1032.3H1434M1230 1042.8H1434M1230 1053.3H1434M1230 1064H1434"/>
<path d="M1331 958.5V1074.5M1249 969V1074.5M1281 969V1074.5M1300 969V1074.5M1351 969V1074.5M1382 969V1074.5M1402 969V1074.5"/>
</g>
<g font-size="5" fill="#ff7080">
<text x="1270" y="966">楼层标高表</text><text x="1334" y="966" font-size="4.5">注:图中标高为建筑完成面标高,( )为结构标高</text>
<text x="1232" y="977">楼层</text><text x="1252" y="977">标高</text><text x="1283" y="977">楼层</text><text x="1302" y="977">标高</text><text x="1333" y="977">楼层</text><text x="1353" y="977">标高</text><text x="1384" y="977">楼层</text><text x="1404" y="977">标高</text>
</g>
<g font-size="7.5" fill="#ff7080">
<text x="1233" y="988">1F</text><text x="1251" y="988">0.000</text><text x="1283" y="988">10F</text><text x="1302" y="988">30.000</text><text x="1333" y="988">19F</text><text x="1352" y="988">57.000</text><text x="1384" y="988">28F</text><text x="1403" y="988">84.000</text>
<text x="1233" y="998.5">2F</text><text x="1251" y="998.5">6.000</text><text x="1283" y="998.5">11F</text><text x="1302" y="998.5">33.000</text><text x="1333" y="998.5">20F</text><text x="1352" y="998.5">60.000</text><text x="1384" y="998.5">29F</text><text x="1403" y="998.5">87.000</text>
<text x="1233" y="1009">3F</text><text x="1251" y="1009">9.000</text><text x="1283" y="1009">12F</text><text x="1302" y="1009">36.000</text><text x="1333" y="1009">21F</text><text x="1352" y="1009">63.000</text><text x="1384" y="1009" font-size="5">天面</text><text x="1403" y="1009">(89.950)</text>
<text x="1233" y="1019.5">4F</text><text x="1250" y="1019.5">12.000</text><text x="1283" y="1019.5">13F</text><text x="1302" y="1019.5">39.000</text><text x="1333" y="1019.5">22F</text><text x="1352" y="1019.5">66.000</text>
<text x="1233" y="1030">5F</text><text x="1250" y="1030">15.000</text><text x="1283" y="1030">14F</text><text x="1302" y="1030">42.000</text><text x="1333" y="1030">23F</text><text x="1352" y="1030">69.000</text>
<text x="1233" y="1040.5">6F</text><text x="1250" y="1040.5">18.000</text><text x="1283" y="1040.5">15F</text><text x="1302" y="1040.5">45.000</text><text x="1333" y="1040.5">24F</text><text x="1352" y="1040.5">72.000</text>
<text x="1233" y="1051">7F</text><text x="1250" y="1051">21.000</text><text x="1283" y="1051">16F</text><text x="1302" y="1051">48.000</text><text x="1333" y="1051">25F</text><text x="1352" y="1051">75.000</text>
<text x="1233" y="1061.5">8F</text><text x="1250" y="1061.5">24.000</text><text x="1283" y="1061.5">17F</text><text x="1302" y="1061.5">51.000</text><text x="1333" y="1061.5">26F</text><text x="1352" y="1061.5">78.000</text>
<text x="1233" y="1072">9F</text><text x="1250" y="1072">27.000</text><text x="1283" y="1072">18F</text><text x="1302" y="1072">54.000</text><text x="1333" y="1072">27F</text><text x="1352" y="1072">81.000</text>
</g>
</svg>
</body></html>
